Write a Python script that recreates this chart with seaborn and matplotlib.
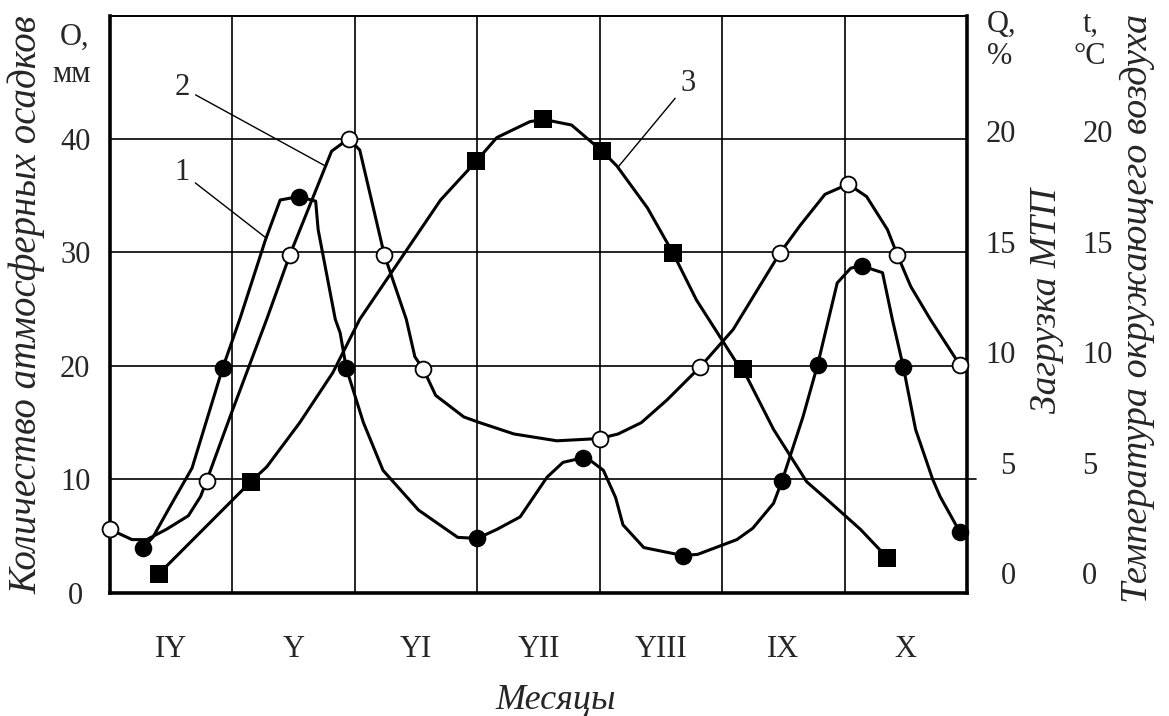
import matplotlib
matplotlib.use("Agg")
import matplotlib.pyplot as plt
import seaborn as sns

# месяцы (подписи по оси X, каждая в середине своего интервала)
months = ["IY", "Y", "YI", "YII", "YIII", "IX", "X"]
left_ticks = [0, 10, 20, 30, 40]
right_ticks = [0, 5, 10, 15, 20]

# кривая 1 (чёрные кружки), значения в единицах левой оси
curve1_x = [0.27, 0.35, 0.49, 0.67, 0.92, 1.06, 1.27, 1.39, 1.54, 1.68, 1.70, 1.84,
            1.88, 1.93, 2.07, 2.23, 2.52, 2.84, 3.00, 3.16, 3.35, 3.57, 3.70, 3.86,
            3.92, 4.03, 4.13, 4.19, 4.36, 4.68, 4.80, 5.12, 5.25, 5.42, 5.49, 5.66,
            5.78, 5.94, 6.05, 6.14, 6.31, 6.39, 6.48, 6.58, 6.72, 6.78, 6.94]
curve1_y = [4.0, 4.9, 7.6, 11.0, 19.8, 24.1, 31.1, 34.6, 34.9, 34.5, 32.0, 24.1,
            22.9, 19.8, 15.0, 10.8, 7.3, 4.9, 4.8, 5.6, 6.7, 10.2, 11.5, 11.9,
            11.7, 10.8, 8.4, 6.0, 4.0, 3.3, 3.4, 4.7, 5.7, 7.9, 9.9, 15.5,
            20.1, 27.3, 28.6, 28.8, 28.2, 24.1, 19.9, 14.4, 10.0, 8.5, 5.4]
curve1_mx = [0.27, 0.92, 1.54, 1.93, 3.00, 3.86, 4.68, 5.49, 5.78, 6.14, 6.48, 6.94]
curve1_my = [4.0, 19.8, 34.9, 19.8, 4.8, 11.9, 3.3, 9.9, 20.1, 28.8, 19.9, 5.4]

# кривая 2 (светлые кружки)
curve2_x = [0.0, 0.18, 0.30, 0.46, 0.64, 0.74, 0.79, 0.98, 1.28, 1.47, 1.81, 1.95,
            2.04, 2.24, 2.42, 2.49, 2.56, 2.66, 2.89, 3.02, 3.30, 3.65, 4.00, 4.15,
            4.34, 4.55, 4.82, 5.09, 5.47, 5.64, 5.84, 6.03, 6.18, 6.35, 6.43, 6.54,
            6.70, 6.94]
curve2_y = [5.6, 4.7, 4.7, 5.6, 6.8, 8.5, 9.9, 15.5, 24.1, 29.8, 38.9, 40.0,
            39.0, 29.8, 24.1, 20.8, 19.7, 17.4, 15.5, 15.0, 14.0, 13.4, 13.6, 14.0,
            15.0, 17.0, 19.9, 23.2, 29.9, 32.4, 35.1, 36.0, 34.9, 32.0, 29.8, 27.0,
            24.1, 20.1]
curve2_mx = [0.0, 0.79, 1.47, 1.95, 2.24, 2.56, 4.00, 4.82, 5.47, 6.03, 6.43, 6.94]
curve2_my = [5.6, 9.9, 29.8, 40.0, 29.8, 19.7, 13.6, 19.9, 29.9, 36.0, 29.8, 20.1]

# кривая 3 (чёрные квадраты)
curve3_x = [0.40, 1.15, 1.28, 1.55, 1.82, 2.04, 2.70, 2.99, 3.16, 3.43, 3.54, 3.77,
            4.02, 4.14, 4.39, 4.60, 4.79, 5.11, 5.17, 5.42, 5.69, 5.86, 6.13, 6.35]
curve3_y = [1.7, 9.8, 11.1, 15.0, 19.4, 24.1, 34.6, 38.0, 40.1, 41.5, 41.7, 41.2,
            38.9, 37.6, 33.9, 29.9, 25.8, 20.4, 19.7, 14.4, 9.8, 8.2, 5.6, 3.1]
curve3_mx = [0.40, 1.15, 2.99, 3.54, 4.02, 4.60, 5.17, 6.35]
curve3_my = [1.7, 9.8, 38.0, 41.7, 38.9, 29.9, 19.7, 3.1]

sns.set_theme(style="white")
plt.rcParams["font.family"] = ["Liberation Serif", "DejaVu Serif"]

W, H = 1169, 716
fig = plt.figure(figsize=(W / 100, H / 100), dpi=100)
ax = fig.add_axes([110 / W, 1 - 593 / H, 857 / W, 577 / H])

LW = 2.2
for xs, ys in [(curve1_x, curve1_y), (curve2_x, curve2_y), (curve3_x, curve3_y)]:
    sns.lineplot(x=xs, y=ys, sort=False, estimator=None, color="black",
                 linewidth=LW, ax=ax, zorder=3)

sns.scatterplot(x=curve1_mx, y=curve1_my, marker="o", s=160, color="black",
                linewidth=0, ax=ax, zorder=4, clip_on=False)
sns.scatterplot(x=curve2_mx, y=curve2_my, marker="o", s=130, color="white",
                edgecolor="black", linewidth=1.3, ax=ax, zorder=4, clip_on=False)
sns.scatterplot(x=curve3_mx, y=curve3_my, marker="s", s=150, color="black",
                linewidth=0, ax=ax, zorder=4, clip_on=False)

ax.set_xlim(0, 7)
ax.set_ylim(0, 50.8)
ax.set_xticks([i + 0.5 for i in range(len(months))], months)
ax.set_xticks(range(1, 7), minor=True)
ax.set_yticks(left_ticks, [str(v) for v in left_ticks])
ax.tick_params(axis="x", which="both", length=0, pad=30, labelsize=22)
ax.tick_params(axis="y", length=0, pad=25, labelsize=22)
for lbl in ax.get_yticklabels():
    lbl.set_horizontalalignment("center")
ax.set_axisbelow(True)
ax.grid(axis="y", which="major", color="black", linewidth=1.2)
ax.grid(axis="x", which="minor", color="black", linewidth=1.2)
ax.axhline(10, xmin=1, xmax=1.01, color="black", linewidth=1.2, clip_on=False)
for side, w in [("left", 2.6), ("bottom", 2.6), ("right", 2.6), ("top", 1.4)]:
    ax.spines[side].set_visible(True)
    ax.spines[side].set_color("black")
    ax.spines[side].set_linewidth(w)

# правые шкалы: Q, % и t, °C
for pad, ha in [(35, "right"), (83, "left")]:
    tw = ax.twinx()
    tw.set_ylim(-0.907, 25.23)
    tw.set_yticks(right_ticks, [str(v) for v in right_ticks])
    tw.tick_params(axis="y", length=0, pad=pad, labelsize=22)
    for lbl in tw.get_yticklabels():
        lbl.set_horizontalalignment(ha)
    for s in tw.spines.values():
        s.set_visible(False)

# номера кривых с выносками
for num, xy, xytext in [("2", (1.75, 37.65), (0.59, 44.5)),
                        ("1", (1.27, 31.3), (0.59, 37.0)),
                        ("3", (4.15, 37.5), (4.72, 44.9))]:
    ax.annotate(num, xy=xy, xytext=xytext, ha="center", va="center", size=22,
                arrowprops=dict(arrowstyle="-", color="black", lw=1.0,
                                shrinkA=2, shrinkB=0))

def ftext(x, y, s, **kw):
    fig.text(x / W, 1 - y / H, s, **kw)

ftext(27, 305, "Количество атмосферных осадков", rotation=90, style="italic",
      size=28, ha="center", va="center")
ftext(60, 37, "O,", size=22, ha="left", va="center")
ftext(52, 75, "мм", size=22, ha="left", va="center")
ftext(987, 24, "Q,", size=22, ha="left", va="center")
ftext(987, 56, "%", size=22, ha="left", va="center")
ftext(1083, 24, "t,", size=22, ha="left", va="center")
ftext(1090, 56, "°C", size=22, ha="center", va="center")
ftext(1047, 301, "Загрузка МТП", rotation=90, style="italic", size=27,
      ha="center", va="center")
ftext(1137, 308, "Температура окружающего воздуха", rotation=90, style="italic",
      size=27.5, ha="center", va="center")
ftext(556, 700, "Месяцы", style="italic", size=26, ha="center", va="center")

fig.savefig("out.png", dpi=100)
